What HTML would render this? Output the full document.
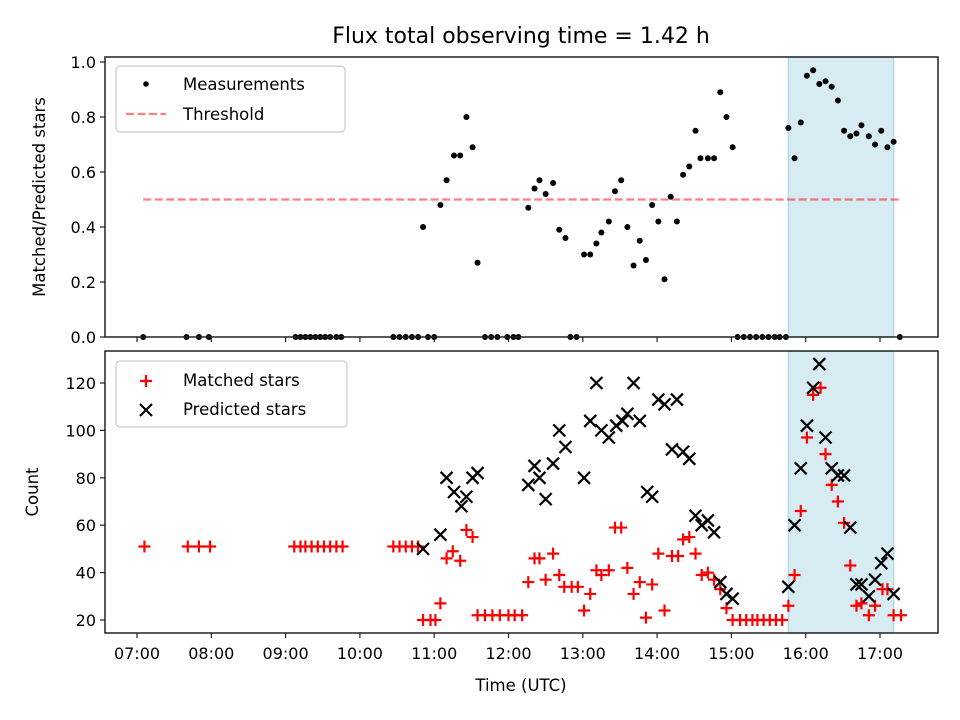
<!DOCTYPE html>
<html><head><meta charset="utf-8"><style>
html,body{margin:0;padding:0;background:#fff;}
svg{display:block;font-family:"DejaVu Sans","Liberation Sans",sans-serif;}
</style></head><body>
<svg id="chart" width="960" height="720" viewBox="0 0 960 720" xmlns="http://www.w3.org/2000/svg">
<rect width="960" height="720" fill="#fff"/>
<text x="521" y="43" font-size="22" text-anchor="middle">Flux total observing time = 1.42 h</text>
<g id="top"></g>
<g id="bot"></g>
</svg>
<script>
// minutes after 07:00 UTC
const ratioTimes=[5,40,50,58,128,132,136,140,144,148,152,156,161,165,207,212,217,222,227,235,240,281,286,291,299,304,308,350,355,485,490,495,500,505,510,515,519,524,616,
231,245,250,256,261,266,271,275,316,321,325,330,336,341,346,361,366,371,375,381,386,391,396,401,406,411,416,421,426,431,436,441,446,451,455,461,466,471,476,481,526,531,536,541,546,551,556,561,566,571,576,581,585,591,596,601,606,611];
const ratioValues=[0,0,0,0,0,0,0,0,0,0,0,0,0,0,0,0,0,0,0,0,0,0,0,0,0,0,0,0,0,0,0,0,0,0,0,0,0,0,0,
.40,.48,.57,.66,.66,.80,.69,.27,.47,.54,.57,.52,.56,.39,.36,.30,.30,.34,.38,.42,.53,.57,.40,.26,.35,.28,.48,.42,.21,.51,.42,.59,.62,.75,.65,.65,.65,.89,.80,.69,.76,.65,.78,.95,.97,.92,.93,.91,.86,.75,.73,.74,.77,.73,.70,.75,.69,.71];
const thresholdValue=0.5;
const thresholdRange=[5,616];
const matchedTimes=[6,41,50,59,127,132,136,141,146,151,156,161,166,207,212,217,222,227,231,237,241,245,250,255,261,266,271,275,281,287,293,300,305,311,316,321,325,330,336,341,345,351,356,361,366,371,375,381,386,391,396,401,406,411,416,421,426,432,437,441,446,451,456,461,466,471,476,481,487,492,497,501,506,511,516,521,526,531,536,541,546,552,556,561,566,571,576,581,585,591,596,602,606,611,617];
const matchedValues=[51,51,51,51,51,51,51,51,51,51,51,51,51,51,51,51,51,51,20,20,20,27,46,49,45,58,55,22,22,22,22,22,22,22,36,46,46,37,48,39,34,34,34,24,31,41,39,41,59,59,42,31,36,21,35,48,24,47,47,54,55,48,39,40,37,33,25,20,20,20,20,20,20,20,20,20,26,39,66,97,115,118,90,77,70,61,43,26,27,22,26,33,33,22,22];
const predictedTimes=[231,245,250,256,262,266,271,275,316,321,325,330,336,341,346,361,366,371,375,381,387,392,396,401,406,412,416,421,426,432,436,441,446,451,456,461,466,471,476,481,526,531,536,541,546,551,556,561,566,571,576,581,585,591,596,601,606,611];
const predictedValues=[50,56,80,74,68,72,80,82,77,85,80,71,86,100,93,80,104,120,100,97,102,104,107,120,104,74,72,113,111,92,113,91,88,64,60,62,57,36,31,29,34,60,84,102,118,128,97,84,81,81,59,35,35,30,37,44,48,31];
const shadeRange=[526,611];
const xTickLabels=["07:00","08:00","09:00","10:00","11:00","12:00","13:00","14:00","15:00","16:00","17:00"];
const yTopTicks=[0,0.2,0.4,0.6,0.8,1.0];
const yBotTicks=[20,40,60,80,100,120];

const NS="http://www.w3.org/2000/svg";
const L=105,R=938;
const T1=57,B1=337,T2=351,B2=633;
const xs=t=>137+t*74.3/60;
const y1=v=>337-v*275;
const y2=c=>620-(c-20)*2.37;
function mk(parent,tag,attrs,text){const e=document.createElementNS(NS,tag);for(const k in attrs)e.setAttribute(k,attrs[k]);if(text!==undefined)e.textContent=text;parent.appendChild(e);return e;}
const gT=document.getElementById('top'),gB=document.getElementById('bot');

// shading
[[gT,T1,B1],[gB,T2,B2]].forEach(([g,t,b],i)=>{
  const r=mk(g,'rect',{x:xs(shadeRange[0]),y:t,width:xs(shadeRange[1])-xs(shadeRange[0]),height:b-t,fill:'rgba(173,216,230,0.5)',stroke:'rgba(173,216,230,0.9)','stroke-width':1.5});
  
  
});

// threshold
const th=mk(gT,'line',{x1:xs(thresholdRange[0]),x2:xs(thresholdRange[1]),y1:y1(thresholdValue),y2:y1(thresholdValue),stroke:'rgba(255,0,0,0.5)','stroke-width':2.2,'stroke-dasharray':'8 3.5'});



// ratio points
ratioTimes.forEach((t,i)=>{
  const c=mk(gT,'circle',{cx:xs(t),cy:y1(ratioValues[i]),r:3,fill:'#000'});
  
  
});
// matched
function plus(g,x,y){const p=mk(g,'path',{d:`M${x-6} ${y}H${x+6}M${x} ${y-6}V${y+6}`,stroke:'#f00','stroke-width':2.2});return p;}
function cross(g,x,y){const p=mk(g,'path',{d:`M${x-6} ${y-6}L${x+6} ${y+6}M${x-6} ${y+6}L${x+6} ${y-6}`,stroke:'#000','stroke-width':2.2});return p;}
matchedTimes.forEach((t,i)=>{
  const p=plus(gB,xs(t),y2(matchedValues[i]));
  
  
});
predictedTimes.forEach((t,i)=>{
  const p=cross(gB,xs(t),y2(predictedValues[i]));
  
  
});

// frames
[[gT,T1,B1],[gB,T2,B2]].forEach(([g,t,b],i)=>{
  const f=mk(g,'rect',{x:L,y:t,width:R-L,height:b-t,fill:'none',stroke:'#222','stroke-width':1.5});
  
  
  xTickLabels.forEach((lab,k)=>{
    const x=xs(k*60);
    mk(g,'line',{x1:x,x2:x,y1:b,y2:b+5,stroke:'#222','stroke-width':1.2});
    if(i){const tx=mk(g,'text',{x:x,y:b+26,'font-size':16,'text-anchor':'middle'},lab);
      
      }
  });
});
yTopTicks.forEach(v=>{
  const y=y1(v);
  mk(gT,'line',{x1:L-5,x2:L,y1:y,y2:y,stroke:'#222','stroke-width':1.2});
  const tx=mk(gT,'text',{x:L-9,y:y+6,'font-size':16,'text-anchor':'end'},v.toFixed(1));
  
  
});
yBotTicks.forEach(v=>{
  const y=y2(v);
  mk(gB,'line',{x1:L-5,x2:L,y1:y,y2:y,stroke:'#222','stroke-width':1.2});
  const tx=mk(gB,'text',{x:L-9,y:y+6,'font-size':16,'text-anchor':'end'},String(v));
  
  
});
// axis titles
let a=mk(gT,'text',{x:0,y:0,'font-size':16.5,'text-anchor':'middle',transform:'translate(45,197) rotate(-90)'},'Matched/Predicted stars');


a=mk(gB,'text',{x:0,y:0,'font-size':16.5,'text-anchor':'middle',transform:'translate(38,492) rotate(-90)'},'Count');


a=mk(gB,'text',{x:521,y:691,'font-size':16.5,'text-anchor':'middle'},'Time (UTC)');



// legends
let lg=mk(gT,'g',{});


mk(lg,'rect',{x:116,y:66,width:229,height:66,rx:4,fill:'rgba(255,255,255,0.8)',stroke:'#ccc','stroke-width':1.2});
mk(lg,'circle',{cx:146,cy:84,r:2.8,fill:'#000'});
mk(lg,'text',{x:183,y:90,'font-size':16.5},'Measurements');
mk(lg,'line',{x1:126,x2:166,y1:114,y2:114,stroke:'rgba(255,0,0,0.5)','stroke-width':2.2,'stroke-dasharray':'8 3.5'});
mk(lg,'text',{x:183,y:120,'font-size':16.5},'Threshold');

lg=mk(gB,'g',{});


mk(lg,'rect',{x:116,y:361,width:231,height:66,rx:4,fill:'rgba(255,255,255,0.8)',stroke:'#ccc','stroke-width':1.2});
plus(lg,146,381);
mk(lg,'text',{x:183,y:386,'font-size':16.5},'Matched stars');
cross(lg,146,410);
mk(lg,'text',{x:183,y:415,'font-size':16.5},'Predicted stars');
</script>
</body></html>
